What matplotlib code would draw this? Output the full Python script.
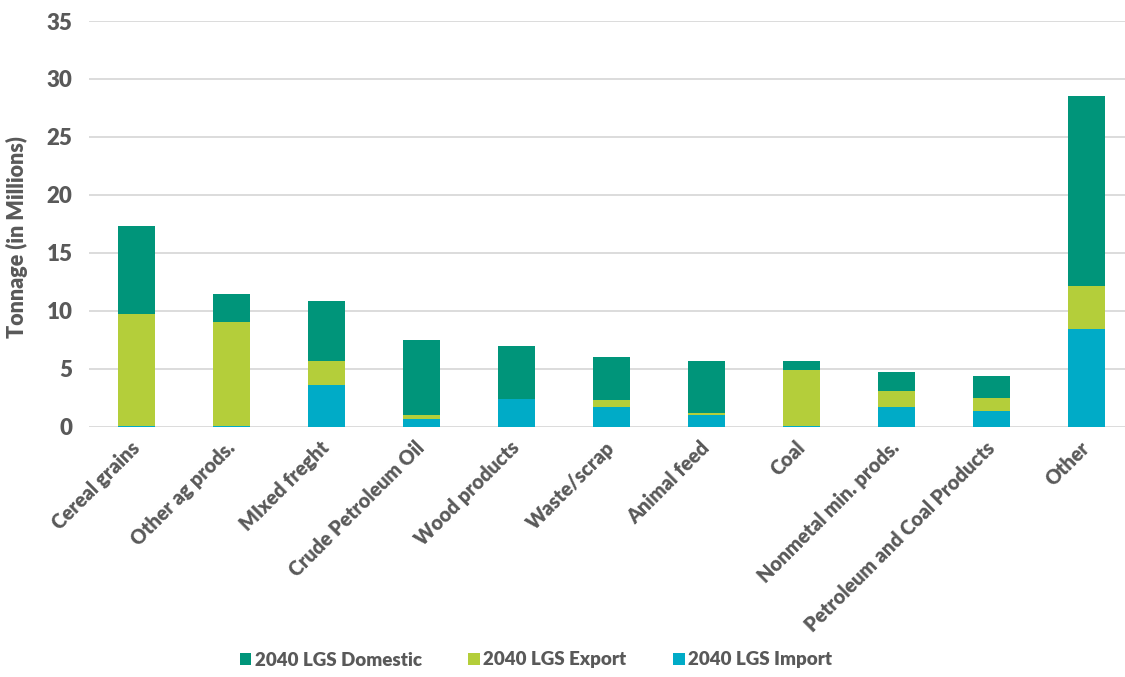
import matplotlib.pyplot as plt
import numpy as np

categories = ['Cereal grains', 'Other ag prods.', 'MIxed freght', 'Crude Petroleum Oil',
              'Wood products', 'Waste/scrap', 'Animal feed', 'Coal',
              'Nonmetal min. prods.', 'Petroleum and Coal Products', 'Other']
imports = [0.05, 0.05, 3.6, 0.63, 2.35, 1.71, 1.0, 0.03, 1.71, 1.37, 8.4]
exports = [9.7, 8.98, 2.07, 0.37, 0.0, 0.6, 0.2, 4.9, 1.35, 1.12, 3.74]
domestic = [7.6, 2.4, 5.2, 6.52, 4.57, 3.69, 4.43, 0.7, 1.65, 1.85, 16.43]

colors = {'Domestic': '#00957A', 'Export': '#B4CE3A', 'Import': '#00ABC7'}
text_color = '#595959'
WT = 800

plt.rcParams['font.family'] = ['Lato', 'DejaVu Sans']

fig = plt.figure(figsize=(11.25, 6.77), dpi=100)
ax = fig.add_axes([89 / 1125, 1 - 426.7 / 677, 1045 / 1125, 405.7 / 677])

x = np.arange(len(categories))
w = 0.39
imp = np.array(imports)
exp_ = np.array(exports)
dom = np.array(domestic)
b_dom = ax.bar(x, dom, w, bottom=imp + exp_, color=colors['Domestic'], zorder=3)
b_exp = ax.bar(x, exp_, w, bottom=imp, color=colors['Export'], zorder=3)
b_imp = ax.bar(x, imp, w, color=colors['Import'], zorder=3)

ax.set_xlim(-0.5, len(categories) - 0.5)
ax.set_ylim(0, 35)
ax.set_yticks(range(0, 36, 5))
ax.set_yticklabels([str(v) for v in range(0, 36, 5)], fontweight=WT, fontsize=16,
                   color=text_color)
ax.yaxis.grid(True, color='#D9D9D9', linewidth=1.3, zorder=0)
for s in ax.spines.values():
    s.set_visible(False)
ax.tick_params(axis='both', length=0)
ax.tick_params(axis='y', pad=12)
ax.set_xticks(x)
ax.set_xticklabels(categories, rotation=45, ha='right', va='center',
                   rotation_mode='anchor', fontsize=14.2, color=text_color,
                   fontweight=WT)
ax.tick_params(axis='x', pad=13)
ax.set_ylabel('Tonnage (in Millions)', fontsize=15.5, color=text_color,
              fontweight=WT)
ax.yaxis.set_label_coords(-0.058, 0.468)

fig.legend([b_dom, b_exp, b_imp],
           ['2040 LGS Domestic', '2040 LGS Export', '2040 LGS Import'],
           loc='center', bbox_to_anchor=(536 / 1125, 1 - 660 / 677), ncol=3,
           frameon=False, handlelength=0.6, handleheight=0.6,
           handletextpad=0.2, columnspacing=2.5, labelcolor=text_color,
           prop={'family': ['Lato', 'DejaVu Sans'], 'size': 13.5, 'weight': WT})

fig.savefig('out.png', dpi=100)
